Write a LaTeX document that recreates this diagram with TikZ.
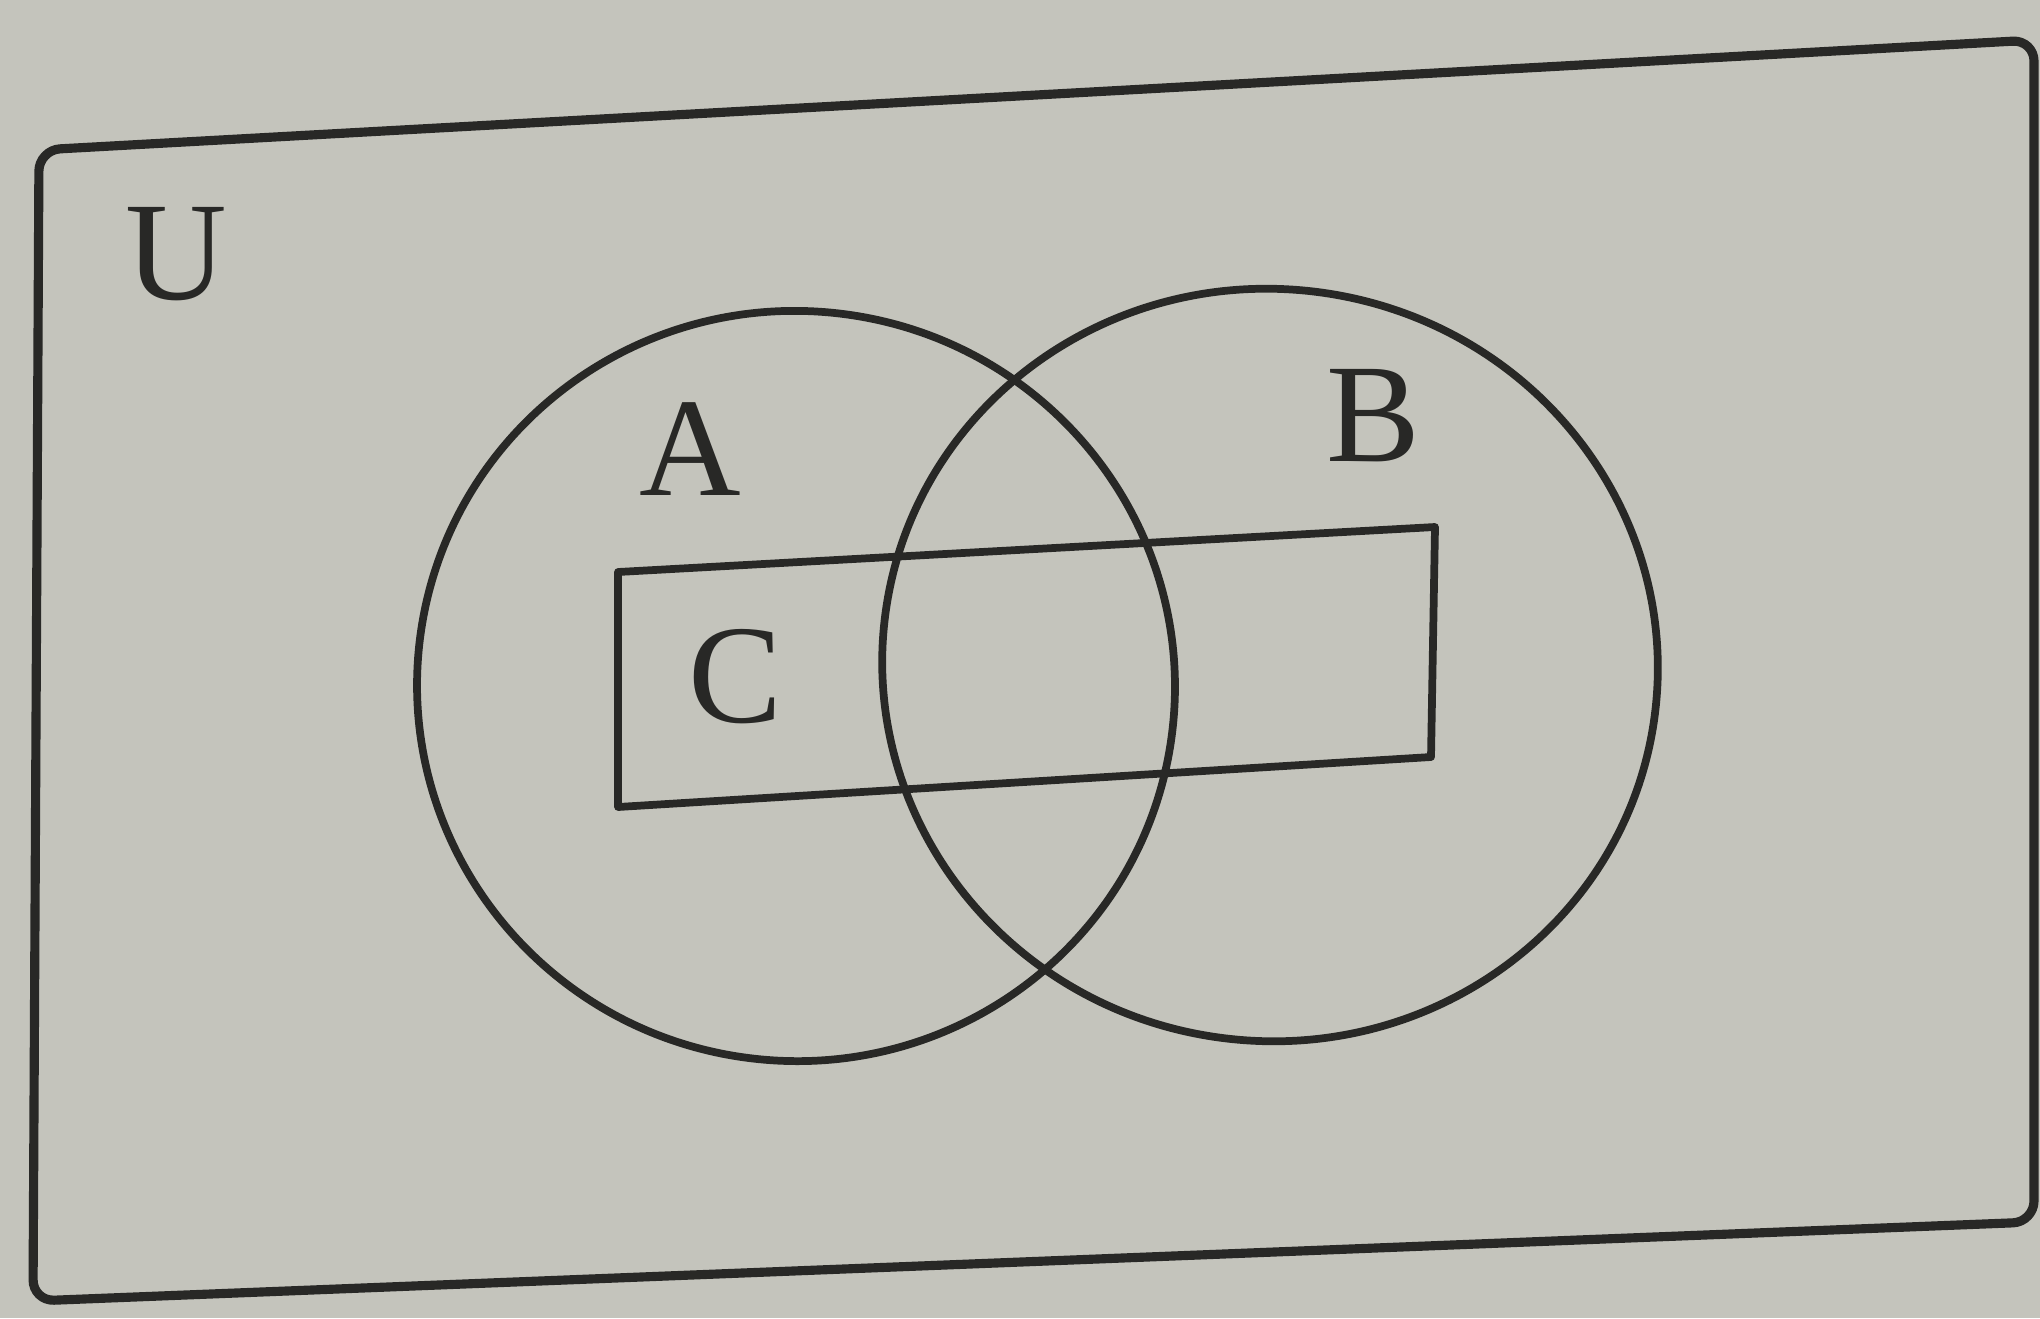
\documentclass[tikz,border=0pt]{standalone}
\usepackage{fontspec}
\setmainfont{Liberation Serif}
\definecolor{paper}{RGB}{196,196,188}
\definecolor{ink}{RGB}{40,40,38}
\tikzset{
  setline/.style={draw=ink, line width=2.2pt, line join=round},
  setlabel/.style={text=ink, inner sep=0pt, font=\fontsize{40}{40}\selectfont}
}
\begin{document}
\begin{tikzpicture}[x=0.01cm,y=-0.01cm]
\useasboundingbox (0,0) rectangle (2040,1318);
\fill[paper] (0,0) rectangle (2040,1318);
% universe
\draw[setline, line width=2.6pt, rounded corners=6pt] (39,150) -- (2034,40) -- (2034,1222) -- (33,1301) -- cycle;
% sets A and B
\draw[setline] (796,686) ellipse [x radius=379, y radius=375, rotate=-8];
\draw[setline] (1270,665) ellipse [x radius=388, y radius=376, rotate=-8];
% set C
\draw[setline] (618,572) -- (1435,527) -- (1431,757) -- (618,807) -- cycle;
% labels
\node[setlabel] (U) at (176,254) {U};
\node[setlabel] (A) at (690,449) {A};
\node[setlabel] (B) at (1373,416) {B};
\node[setlabel] (C) at (735,677) {C};
\end{tikzpicture}
\end{document}
